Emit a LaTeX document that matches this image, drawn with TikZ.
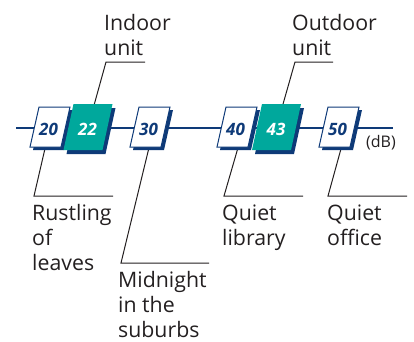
\documentclass[tikz,border=0pt]{standalone}
\usepackage{fontspec}
\setmainfont{Open Sans}
\usetikzlibrary{calc}
\definecolor{navy}{RGB}{14,58,120}
\definecolor{tealc}{RGB}{0,168,156}
\definecolor{ink}{RGB}{35,31,32}
\tikzset{
  axisline/.style={draw=navy,line width=1.8bp},
  callout/.style={draw=ink,line width=1bp},
  lbl/.style={inner sep=0pt,anchor=base west,text=ink,font=\fontsize{21.3bp}{25bp}\selectfont},
  unitlbl/.style={inner sep=0pt,anchor=base west,text=ink,font=\fontsize{16bp}{18bp}\selectfont},
  wnum/.style={inner sep=0pt,text=navy,font=\fontsize{17bp}{20bp}\selectfont\bfseries\itshape,yshift=-2bp,xshift=-1.5bp},
  tnum/.style={inner sep=0pt,text=white,font=\fontsize{17bp}{20bp}\selectfont\bfseries\itshape,yshift=-2bp,xshift=-0.5bp},
  wbox/.pic={
    \fill[navy] (-8,-17) -- (23,-17) -- (14,23) -- (-17,23) -- cycle;
    \filldraw[fill=white,draw=navy,line width=1bp] (-11,-20) -- (20,-20) -- (11,20) -- (-20,20) -- cycle;
  },
  tbox/.pic={
    \fill[navy] (-11.5,-19) -- (27.5,-19) -- (17.5,27) -- (-21.5,27) -- cycle;
    \fill[tealc] (-14.5,-23) -- (24.5,-23) -- (14.5,23) -- (-24.5,23) -- cycle;
  }
}
\begin{document}
\begin{tikzpicture}[x=1bp,y=-1bp]
\useasboundingbox (0,0) rectangle (414,342);
% box centres
\coordinate (c20) at (50,127);
\coordinate (c22) at (88,127);
\coordinate (c30) at (150,127);
\coordinate (c40) at (237,127);
\coordinate (c43) at (276.5,127);
\coordinate (c50) at (339,127);
% axis
\coordinate (axL) at (16,128);
\coordinate (axR) at (393,128);
\draw[axisline] (axL) -- (axR);
% callout corners
\coordinate (uIn) at (106,62);   \coordinate (uInE) at (145,62);
\coordinate (uOut) at (295,62);  \coordinate (uOutE) at (333,62);
\coordinate (uRu) at (34,196);   \coordinate (uRuE) at (113,196);
\coordinate (uMi) at (121,263);  \coordinate (uMiE) at (209,263);
\coordinate (uLi) at (224,196);  \coordinate (uLiE) at (303,196);
\coordinate (uOf) at (328,196);  \coordinate (uOfE) at (407,196);
\draw[callout] (uInE) -- (uIn) -- (c22);
\draw[callout] (uOutE) -- (uOut) -- (c43);
\draw[callout] (uRuE) -- (uRu) -- (c20);
\draw[callout] (uMiE) -- (uMi) -- ($(c30)+(4,0)$);
\draw[callout] (uLiE) -- (uLi) -- ($(c40)+(7,0)$);
\draw[callout] (uOfE) -- (uOf) -- ($(c50)+(8,0)$);
% boxes
\pic at (c20) {wbox};
\pic at (c22) {tbox};
\pic at (c30) {wbox};
\pic at (c40) {wbox};
\pic at (c43) {tbox};
\pic at (c50) {wbox};
\node[wnum] (n20) at (c20) {20};
\node[tnum] (n22) at (c22) {22};
\node[wnum] (n30) at (c30) {30};
\node[wnum] (n40) at (c40) {40};
\node[tnum] (n43) at (c43) {43};
\node[wnum] (n50) at (c50) {50};
\node[unitlbl] (db) at (366,147) {(dB)};
% labels
\node[lbl] (tIn) at (104,30) {\vtop{\baselineskip=25bp \hbox{Indoor}\hbox{unit}}};
\node[lbl] (tOut) at (292,30) {\vtop{\baselineskip=25bp \hbox{Outdoor}\hbox{unit}}};
\node[lbl] (tRu) at (32,220) {\vtop{\baselineskip=25bp \hbox{Rustling}\hbox{of}\hbox{leaves}}};
\node[lbl] (tMi) at (118,287) {\vtop{\baselineskip=25bp \hbox{Midnight}\hbox{in the}\hbox{suburbs}}};
\node[lbl] (tLi) at (222,220) {\vtop{\baselineskip=25bp \hbox{Quiet}\hbox{library}}};
\node[lbl] (tOf) at (327,220) {\vtop{\baselineskip=25bp \hbox{Quiet}\hbox{office}}};
\end{tikzpicture}
\end{document}
